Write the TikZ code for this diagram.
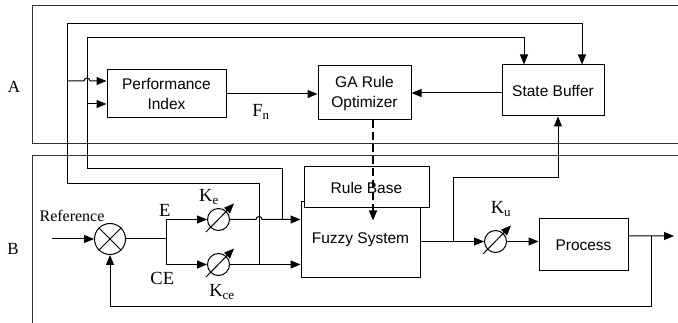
\documentclass[tikz,border=0pt]{standalone}
\usepackage{fontspec}
\setmainfont{Liberation Serif}
\newfontfamily\sansf{Liberation Sans}
\usetikzlibrary{arrows.meta,calc}
\begin{document}
\begin{tikzpicture}[x=1pt,y=-1pt,line width=1pt,
  >={Triangle[length=10pt,width=8pt]},
  blk/.style={draw,fill=white,inner sep=0pt,align=center,font=\sansf\fontsize{15.5}{20}\selectfont},
  gain/.style={draw,circle,minimum size=22pt,inner sep=0pt,fill=white},
  lab/.style={inner sep=0pt,font=\fontsize{18.5}{20}\selectfont},
  frame/.style={draw=black!80,line width=0.8pt},
  dsh/.style={line width=1.6pt,dash pattern=on 8pt off 4pt}]
\useasboundingbox (0,0) rectangle (678,323);
% frames
\draw[frame] (678,5) -- (32,5) -- (32,143) -- (678,143);
\draw[frame] (678,155) -- (32,155) -- (32,323);
\node[lab,font=\fontsize{17}{19}\selectfont] (labA) at (14,87) {A};
\node[lab,font=\fontsize{17}{19}\selectfont] (labB) at (13,249) {B};
% blocks
\node[blk,minimum width=119pt,minimum height=48pt] (pi) at (166.5,94) {Performance\\Index};
\node[blk,minimum width=93pt,minimum height=54pt] (ga) at (364.5,93) {GA Rule\\Optimizer};
\node[blk,minimum width=102pt,minimum height=51pt] (sb) at (553,90.5) {State Buffer};
\node[blk,minimum width=119pt,minimum height=76pt] (fs) at (360.5,240) {Fuzzy System};
\node[blk,minimum width=125pt,minimum height=41pt] (rb) at (366.5,187.5) {Rule Base};
\node[blk,minimum width=89pt,minimum height=52pt] (pr) at (583.5,245) {Process};
% gains and summing junction
\node[gain] (ke) at (218.5,219.5) {};
\node[gain] (kce) at (218.5,264.5) {};
\node[gain] (ku) at (495.5,241.5) {};
\node[draw,circle,minimum size=31pt,inner sep=0pt] (sum) at (110,239) {};
\draw (sum.north west) -- (sum.south east);
\draw (sum.north east) -- (sum.south west);
\foreach \g in {ke,kce,ku}{
  \draw[->] ($(\g)+(-12.5,12.5)$) -- ($(\g)+(15.5,-16)$);
}
% labels
\node[lab,font=\fontsize{16}{18}\selectfont] (ref) at (72,216) {Reference};
\node[lab] (labE) at (164.7,210) {E};
\node[lab] (labCE) at (162.3,278) {CE};
\node[lab] (labKe) at (209,197) {K\textsubscript{e}};
\node[lab] (labKce) at (222,292) {K\textsubscript{ce}};
\node[lab] (labKu) at (501,209) {K\textsubscript{u}};
\node[lab] (labFn) at (261,112) {F\textsubscript{n}};
% coordinates
\coordinate (in) at (52,239);
\coordinate (split) at (166,239);
\coordinate (jce) at (259,264.5);
\coordinate (je) at (282,219.5);
\coordinate (t1) at (582,24);
\coordinate (t2) at (524,38);
\coordinate (b1) at (67,81);
\coordinate (b2) at (87,104);
\coordinate (bf) at (453,241.5);
\coordinate (c3) at (558,178);
\coordinate (po) at ($(pr.north east)!0.33!(pr.south east)$);
\coordinate (fb) at (651,236);
\coordinate (out) at (674,236);
\coordinate (dtop) at ($(ga.south)+(8.5,0)$);
% loop B
\draw[->] (in) -- (sum.west);
\draw (sum.east) -- (split);
\draw[->] (split) |- (ke.west);
\draw[->] (split) |- (kce.west);
\draw[->] (ke.east) -- ($(je)+(-26,0)$) arc[start angle=180,end angle=360,radius=3] -- (fs.west |- ke.east);
\draw[->] (kce.east) -- (fs.west |- kce.east);
\draw[->] (fs.east |- ku.west) -- (ku.west);
\draw[->] (ku.east) -- (pr.west |- ku.east);
\draw[->] (po) -- (out);
\draw[->] (fb) -- (651,307) -- (110,307) -- (sum.south);
\draw[->] (bf) -- (453,178) -- (c3) -- (c3 |- sb.south);
% feedback to A
\draw[->] (jce) -- (259,184) -- (67,184) -- (t1 -| b1) -- (t1) -- (t1 |- sb.north);
\draw[->] (je) -- (282,169) -- (87,169) -- (t2 -| b2) -- (t2) -- (t2 |- sb.north);
\draw[->] (b1) -- ($(b1)+(17,0)$) arc[start angle=180,end angle=360,radius=3] -- (pi.west |- b1);
\draw[->] (b2) -- (pi.west |- b2);
\draw[->] (pi.east) -- (ga.west |- pi.east);
\draw[->] (sb.west |- ga.east) -- (ga.east);
\draw[->,dsh] (dtop) -- ++(0,100);
\end{tikzpicture}
\end{document}
